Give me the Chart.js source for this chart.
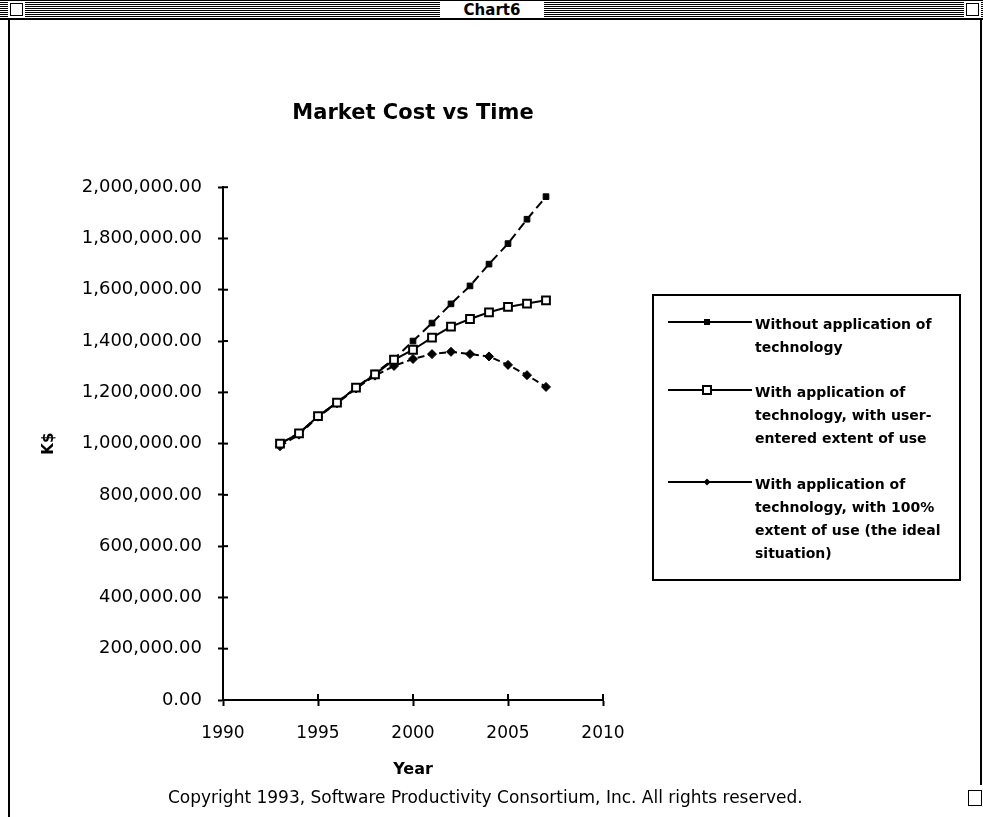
<!DOCTYPE html>
<html>
<head>
<meta charset="utf-8">
<title>Chart6</title>
<script src="https://cdn.jsdelivr.net/npm/chart.js@4.4.1/dist/chart.umd.min.js"></script>
<style>
 html, body { margin: 0; padding: 0; background: #fff; }
 #win { position: relative; width: 983px; height: 817px; overflow: hidden; font-family: "DejaVu Sans", sans-serif; color: #000; }
 .bar { position: absolute; left: 0; top: 0; width: 983px; height: 17px; border-top: 1px solid #000; border-bottom: 2px solid #000;
        background: repeating-linear-gradient(to bottom, #fff 0, #fff 1px, #000 1px, #000 2px); }
 .box { position: absolute; top: 3px; width: 11px; height: 11px; background: #fff; border: 1px solid #000; box-shadow: 0 0 0 2px #fff; }
 .wtitle { position: absolute; left: 440px; top: 1px; width: 104px; height: 17px; line-height: 18px; background: #fff;
           text-align: center; font-weight: bold; font-size: 15px; }
 .side { position: absolute; top: 20px; width: 2px; background: #000; }
 .grow { position: absolute; left: 968px; top: 790px; width: 12px; height: 14px; border: 1px solid #000; }
 #myChart { position: absolute; left: 0; top: 0; }
 .copy { position: absolute; left: 168px; top: 787px; font-size: 17px; line-height: 20px; white-space: nowrap; }
</style>
</head>
<body>
<div id="win">
 <div class="bar"></div>
 <div class="box" style="left:10px"></div>
 <div class="box" style="left:966px"></div>
 <div class="wtitle">Chart6</div>
 <div class="side" style="left:8px;height:797px"></div>
 <div class="side" style="left:980px;height:765px"></div>
 <div class="grow"></div>
 <canvas id="myChart" width="983" height="817"></canvas>
 <div class="copy">Copyright 1993, Software Productivity Consortium, Inc. All rights reserved.</div>
</div>
<script>
'use strict';

// values (K$)
var years = [1993, 1994, 1995, 1996, 1997, 1998, 1999, 2000, 2001, 2002, 2003, 2004, 2005, 2006, 2007];
var withoutTech = [1000000, 1040000, 1107000, 1160000, 1218000, 1275000, 1330000, 1400000, 1470000, 1545000, 1615000, 1700000, 1780000, 1875000, 1963000];
var withUserUse = [1000000, 1040000, 1107000, 1160000, 1218000, 1270000, 1327000, 1366000, 1413000, 1456000, 1486000, 1512000, 1533000, 1546000, 1559000];
var withFullUse = [990000, 1035000, 1105000, 1157000, 1215000, 1265000, 1303000, 1330000, 1349000, 1358000, 1349000, 1340000, 1307000, 1267000, 1221000];

var xTickValues = [1990, 1995, 2000, 2005, 2010];
var yTickValues = [0, 200000, 400000, 600000, 800000, 1000000, 1200000, 1400000, 1600000, 1800000, 2000000];

var legendText = [
 ['Without application of', 'technology'],
 ['With application of', 'technology, with user-', 'entered extent of use'],
 ['With application of', 'technology, with 100%', 'extent of use (the ideal', 'situation)']
];

var FONT = '"DejaVu Sans", sans-serif';

function points(values) {
 return years.map(function (yr, i) { return { x: yr, y: values[i] }; });
}

function drawMarker(ctx, style, x, y, r, fill) {
 ctx.save();
 ctx.lineWidth = 2;
 ctx.strokeStyle = '#000';
 ctx.fillStyle = fill;
 ctx.setLineDash([]);
 ctx.beginPath();
 if (style === 'rectRot') {
  ctx.moveTo(x, y - r); ctx.lineTo(x + r, y); ctx.lineTo(x, y + r); ctx.lineTo(x - r, y); ctx.closePath();
 } else {
  ctx.rect(x - r, y - r, 2 * r, 2 * r);
 }
 ctx.fill();
 ctx.stroke();
 ctx.restore();
}

// ticks that cross the axis line, like the old Excel chart
var crossTicks = {
 id: 'crossTicks',
 afterDraw: function (chart) {
  var ctx = chart.ctx, area = chart.chartArea;
  ctx.save();
  ctx.strokeStyle = '#000';
  ctx.lineWidth = 2;
  chart.scales.x.ticks.forEach(function (t) {
   var px = chart.scales.x.getPixelForValue(t.value);
   ctx.beginPath(); ctx.moveTo(px, area.bottom); ctx.lineTo(px, area.bottom - 6); ctx.stroke();
  });
  chart.scales.y.ticks.forEach(function (t) {
   var py = chart.scales.y.getPixelForValue(t.value);
   ctx.beginPath(); ctx.moveTo(area.left, py); ctx.lineTo(area.left + 5, py); ctx.stroke();
  });
  ctx.restore();
 }
};

var boxLegend = {
 id: 'boxLegend',
 afterDraw: function (chart) {
  var ctx = chart.ctx;
  var left = 653, top = 295, width = 307, height = 285;
  var starts = [325, 393, 485];
  var gap = 23;
  ctx.save();
  ctx.strokeStyle = '#000';
  ctx.lineWidth = 2;
  ctx.strokeRect(left, top, width, height);
  ctx.font = 'bold 14px ' + FONT;
  ctx.fillStyle = '#000';
  ctx.textBaseline = 'middle';
  chart.data.datasets.forEach(function (ds, i) {
   var y0 = starts[i];
   ctx.beginPath();
   ctx.setLineDash([]);
   ctx.moveTo(left + 15, y0 - 3);
   ctx.lineTo(left + 99, y0 - 3);
   ctx.stroke();
   var r = ds.pointStyle === 'rect' && ds.pointBackgroundColor === '#fff' ? 4 : 2;
   drawMarker(ctx, ds.pointStyle, left + 54, y0 - 3, r, ds.pointBackgroundColor);
   legendText[i].forEach(function (line, j) {
    ctx.fillText(line, left + 102, y0 + j * gap);
   });
  });
  ctx.restore();
 }
};

var ctx = document.getElementById('myChart');

var myChart = new Chart(ctx, {
 type: 'line',
 data: {
  datasets: [
   {
    label: legendText[0].join(' '),
    data: points(withoutTech),
    borderColor: '#000',
    borderWidth: 2,
    borderDash: [9, 5],
    pointStyle: 'rect',
    pointRadius: 4,
    pointBackgroundColor: '#000',
    pointBorderColor: '#000',
    pointBorderWidth: 1,
    tension: 0,
    order: 1
   },
   {
    label: legendText[1].join(' '),
    data: points(withUserUse),
    borderColor: '#000',
    borderWidth: 2,
    pointStyle: 'rect',
    pointRadius: 5.5,
    pointBackgroundColor: '#fff',
    pointBorderColor: '#000',
    pointBorderWidth: 2,
    tension: 0,
    order: 0
   },
   {
    label: legendText[2].join(' '),
    data: points(withFullUse),
    borderColor: '#000',
    borderWidth: 2,
    borderDash: [7, 4],
    pointStyle: 'rectRot',
    pointRadius: 4.5,
    pointBackgroundColor: '#000',
    pointBorderColor: '#000',
    pointBorderWidth: 1,
    tension: 0,
    order: 2
   }
  ]
 },
 options: {
  responsive: false,
  animation: false,
  events: [],
  layout: { padding: { left: 20, right: 380, top: 0, bottom: 27 } },
  plugins: {
   legend: { display: false },
   tooltip: { enabled: false },
   title: {
    display: true,
    text: 'Market Cost vs Time',
    fullSize: false,
    color: '#000',
    font: { family: FONT, size: 21, weight: 'bold' },
    padding: { top: 101, bottom: 61 }
   }
  },
  scales: {
   x: {
    type: 'linear',
    min: 1990,
    max: 2010,
    afterBuildTicks: function (axis) {
     axis.ticks = xTickValues.map(function (v) { return { value: v }; });
    },
    afterFit: function (scale) { scale.height = 90; },
    grid: { drawOnChartArea: false, tickLength: 6, tickWidth: 2, tickColor: '#000' },
    border: { color: '#000', width: 2 },
    ticks: {
     color: '#000',
     padding: 17,
     maxRotation: 0,
     font: { family: FONT, size: 17 },
     callback: function (v) { return String(v); }
    },
    title: {
     display: true,
     text: 'Year',
     color: '#000',
     font: { family: FONT, size: 16, weight: 'bold' },
     padding: { top: 0, bottom: 11 }
    }
   },
   y: {
    min: 0,
    max: 2000000,
    afterBuildTicks: function (axis) {
     axis.ticks = yTickValues.map(function (v) { return { value: v }; });
    },
    afterFit: function (scale) { scale.width = 203; },
    grid: { drawOnChartArea: false, tickLength: 5, tickWidth: 2, tickColor: '#000' },
    border: { color: '#000', width: 2 },
    ticks: {
     color: '#000',
     padding: 16,
     font: { family: FONT, size: 18 },
     callback: function (v) {
      return Number(v).toLocaleString('en-US', { minimumFractionDigits: 2, maximumFractionDigits: 2 });
     }
    },
    title: {
     display: true,
     text: 'K$',
     color: '#000',
     font: { family: FONT, size: 15, weight: 'bold' },
     padding: { top: 20, bottom: 0 }
    }
   }
  }
 },
 plugins: [crossTicks, boxLegend]
});
</script>
</body>
</html>
